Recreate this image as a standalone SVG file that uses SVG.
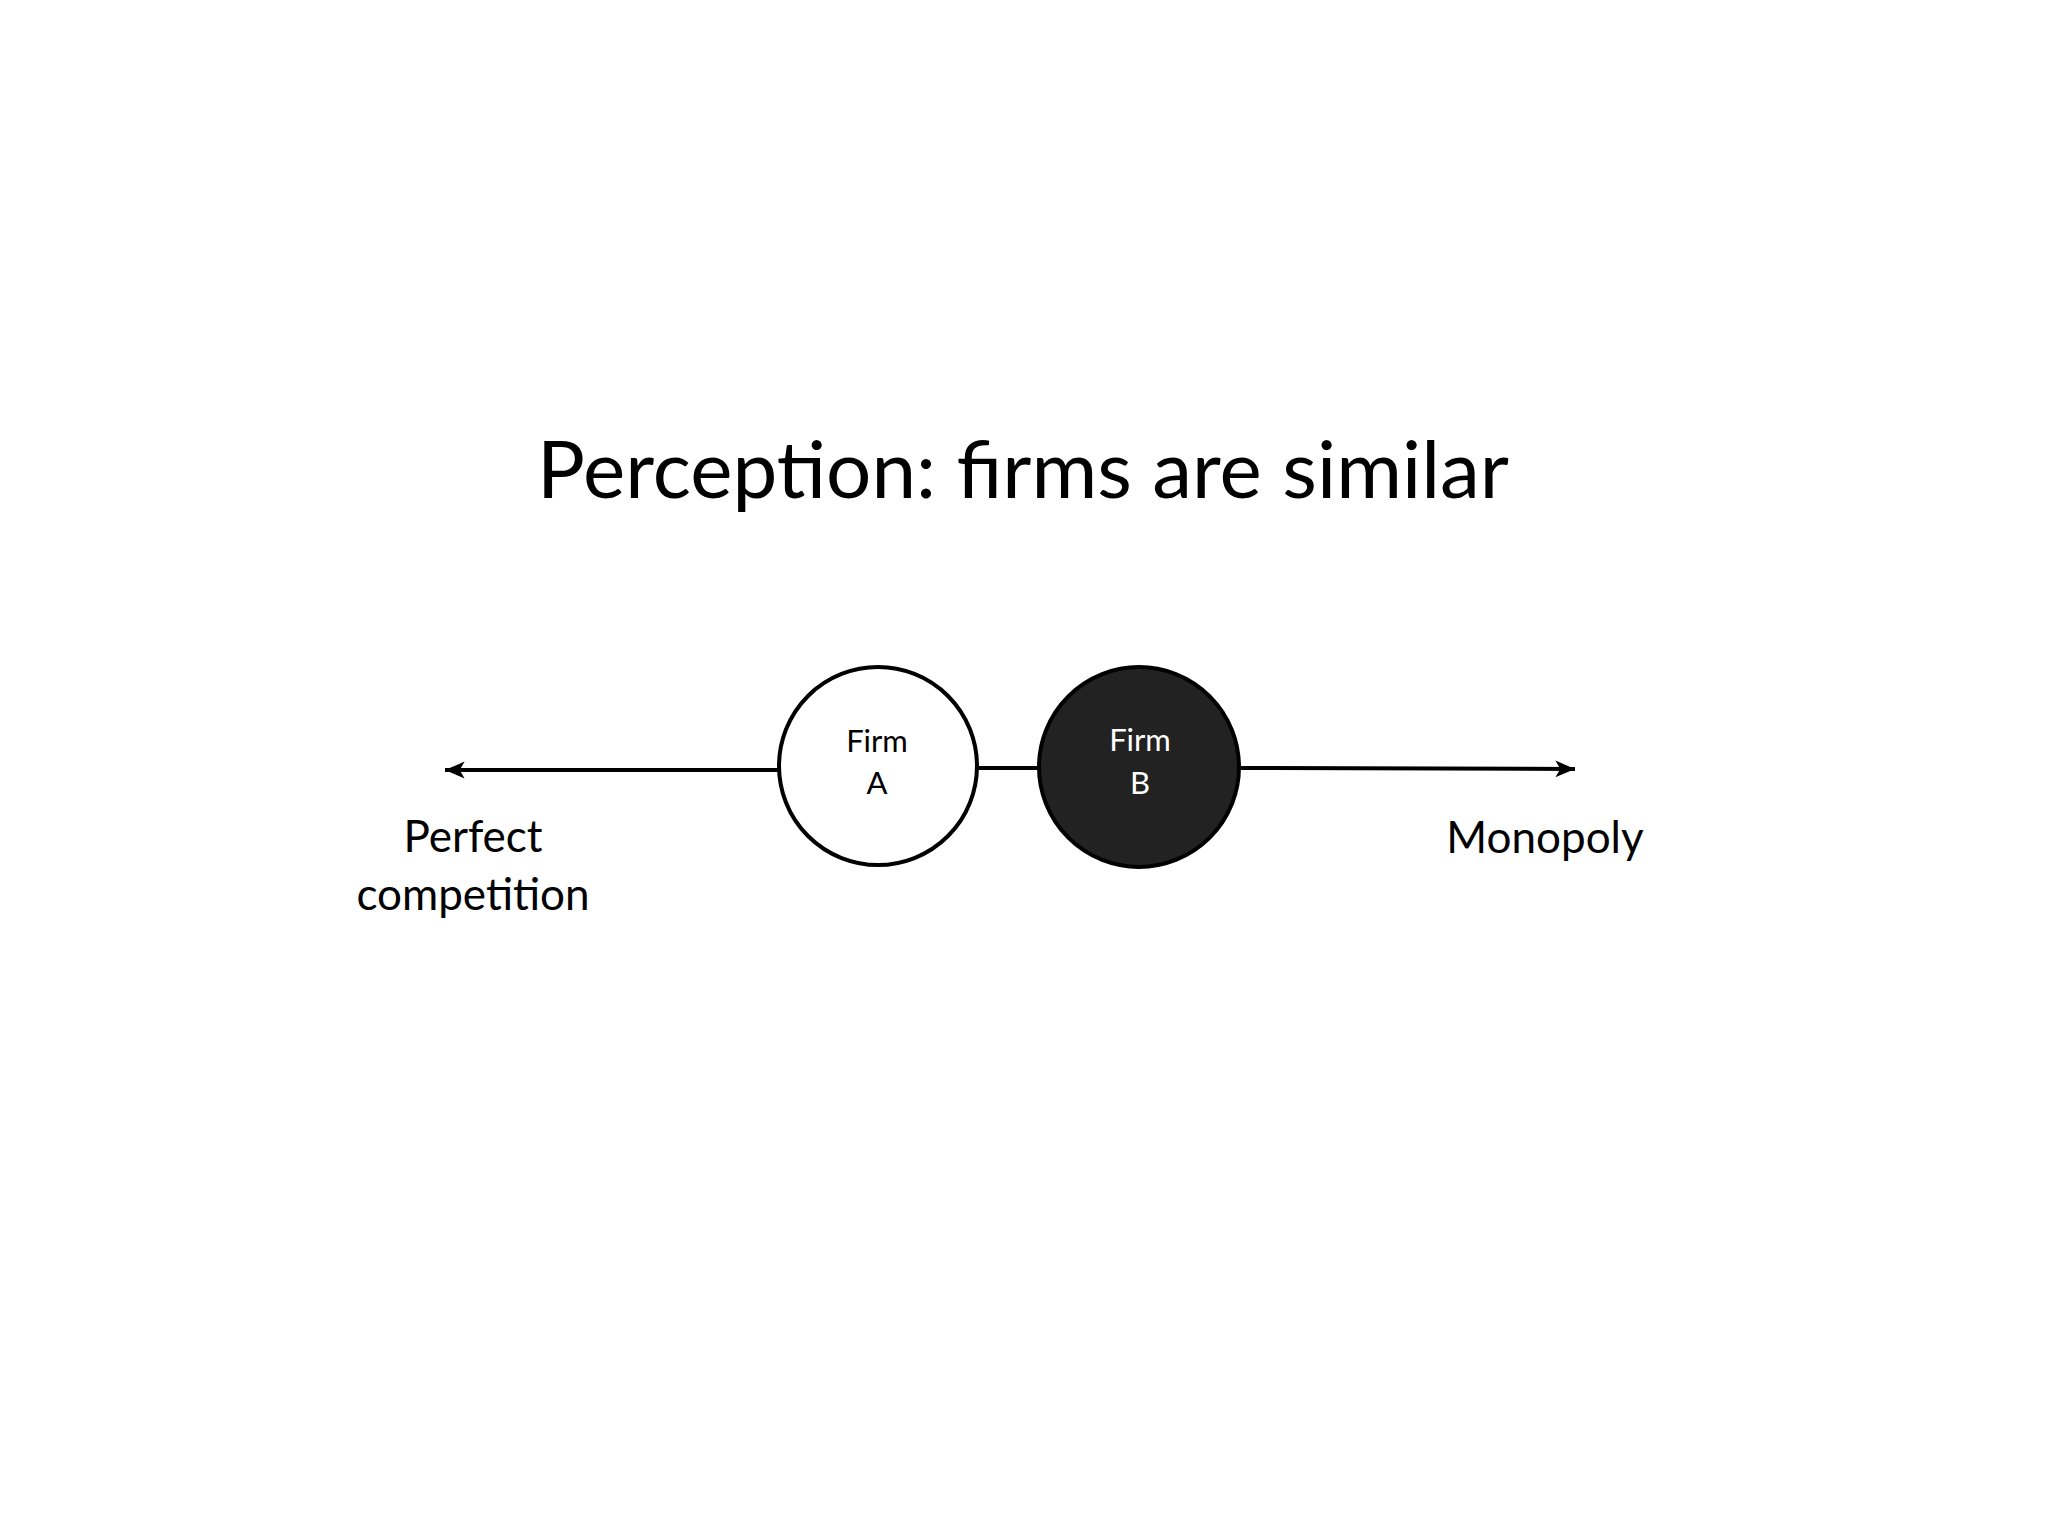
<svg xmlns="http://www.w3.org/2000/svg" width="2048" height="1536" viewBox="0 0 2048 1536">
<style>
text{font-family:Lato,"Open Sans",sans-serif;text-anchor:middle;fill:#000}
.ln{stroke:#000;stroke-width:4;fill:none}
</style>
<defs><marker id="ah" viewBox="0 0 10 10" refX="9" refY="5" markerWidth="7" markerHeight="7" orient="auto" markerUnits="userSpaceOnUse" style="overflow:visible"><path d="M0,0 L28,12 L0,24 L7,12 Z" transform="translate(-19,-7)" fill="#000"/></marker></defs>
<rect width="2048" height="1536" fill="#fff"/>
<text x="1023" y="498" font-size="80">Perception: firms are similar</text>
<g id="connectors">
<line class="ln" x1="779" y1="770" x2="445" y2="770" marker-end="url(#ah)"/>
<line class="ln" x1="977" y1="768" x2="1039" y2="768"/>
<line class="ln" x1="1239" y1="768" x2="1575" y2="769" marker-end="url(#ah)"/>
</g>
<g id="firmA"><circle cx="878" cy="766" r="99" fill="#fff" class="ln"/>
<text x="877" y="752" font-size="31">Firm</text><text x="877" y="794" font-size="31">A</text></g>
<g id="firmB"><circle cx="1139" cy="767" r="100" fill="#222" stroke="#000" stroke-width="4"/>
<text x="1140" y="751" font-size="31" style="fill:#fff">Firm</text><text x="1140" y="794" font-size="31" style="fill:#fff">B</text></g>
<g id="left"><text x="473" y="852" font-size="44">Perfect</text><text x="473" y="910" font-size="44">competition</text></g>
<g id="right"><text x="1545" y="853" font-size="44">Monopoly</text></g>
</svg>
